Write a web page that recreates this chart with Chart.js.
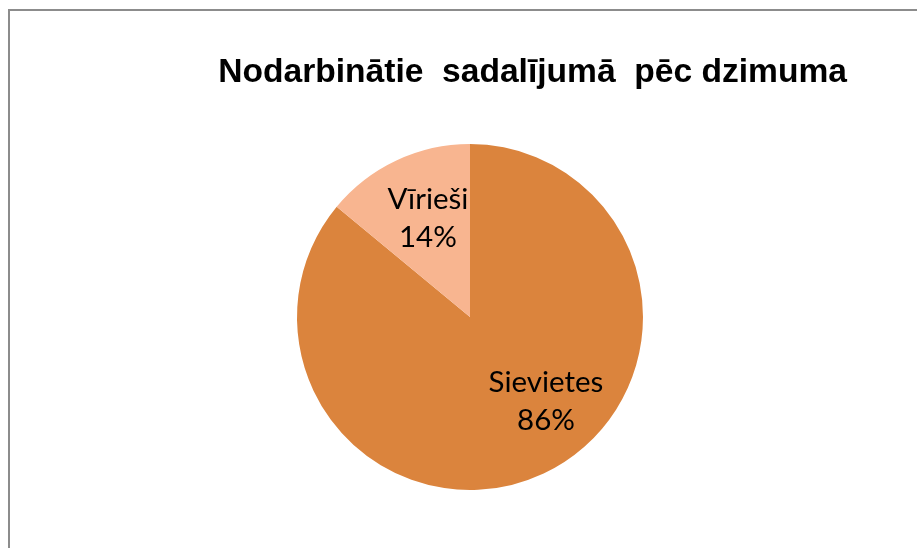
<!DOCTYPE html>
<html>
<head>
<meta charset="utf-8">
<script src="https://cdn.jsdelivr.net/npm/chart.js@4"></script>
<style>
  html, body { margin: 0; padding: 0; background: #fff; overflow: hidden; }
  #frame { position: absolute; left: 8px; top: 9px; width: 1000px; height: 1000px; border: 2px solid #8c8c8c; }
  #wrap { position: absolute; left: 0; top: 0; width: 917px; height: 548px; }
</style>
</head>
<body>
<div id="frame"></div>
<div id="wrap"><canvas id="pieChart"></canvas></div>
<script>
// Chart data
const TITLE = 'Nodarbinātie  sadalījumā  pēc dzimuma';
const CATEGORIES = ['Sievietes', 'Vīrieši'];
const SHARES = [86, 14];
const COLORS = ['#db843d', '#f8b590'];

// Draws "name / pct%" inside each slice; angle (deg, clockwise from 3 o'clock) and radius fraction per slice
const sliceLabels = {
  id: 'sliceLabels',
  afterDatasetsDraw(chart, args, opts) {
    const ctx = chart.ctx;
    const meta = chart.getDatasetMeta(0);
    const data = chart.data.datasets[0].data;
    const total = data.reduce((a, b) => a + b, 0);
    ctx.save();
    ctx.font = opts.font;
    ctx.fillStyle = opts.color;
    ctx.textAlign = 'center';
    ctx.textBaseline = 'middle';
    meta.data.forEach((arc, i) => {
      const a = opts.anchors[i];
      const rad = a.angle * Math.PI / 180;
      const x = arc.x + Math.cos(rad) * arc.outerRadius * a.r;
      const y = arc.y + Math.sin(rad) * arc.outerRadius * a.r;
      const pct = Math.round(data[i] / total * 100) + '%';
      ctx.fillText(chart.data.labels[i], x, y - opts.lineGap / 2);
      ctx.fillText(pct, x, y + opts.lineGap / 2);
    });
    ctx.restore();
  }
};

new Chart(document.getElementById('pieChart'), {
  type: 'pie',
  data: {
    labels: CATEGORIES,
    datasets: [{
      data: SHARES,
      backgroundColor: COLORS,
      borderWidth: 0
    }]
  },
  options: {
    responsive: true,
    maintainAspectRatio: false,
    animation: false,
    layout: { padding: { left: 93, right: 70, top: 0, bottom: 58 } },
    plugins: {
      legend: { display: false },
      tooltip: { enabled: false },
      title: {
        display: true,
        text: TITLE,
        align: 'end',
        color: '#000',
        font: { family: '"Liberation Sans", Arial, sans-serif', size: 33.6, weight: 'bold', lineHeight: 1.2 },
        padding: { top: 52.3, bottom: 51.4 }
      },
      sliceLabels: {
        font: '29.5px Lato, "Open Sans", sans-serif',
        color: '#000',
        lineGap: 38,
        anchors: [{ angle: 47.9, r: 0.655 }, { angle: 246.9, r: 0.62 }]
      }
    }
  },
  plugins: [sliceLabels]
});
</script>
</body>
</html>
